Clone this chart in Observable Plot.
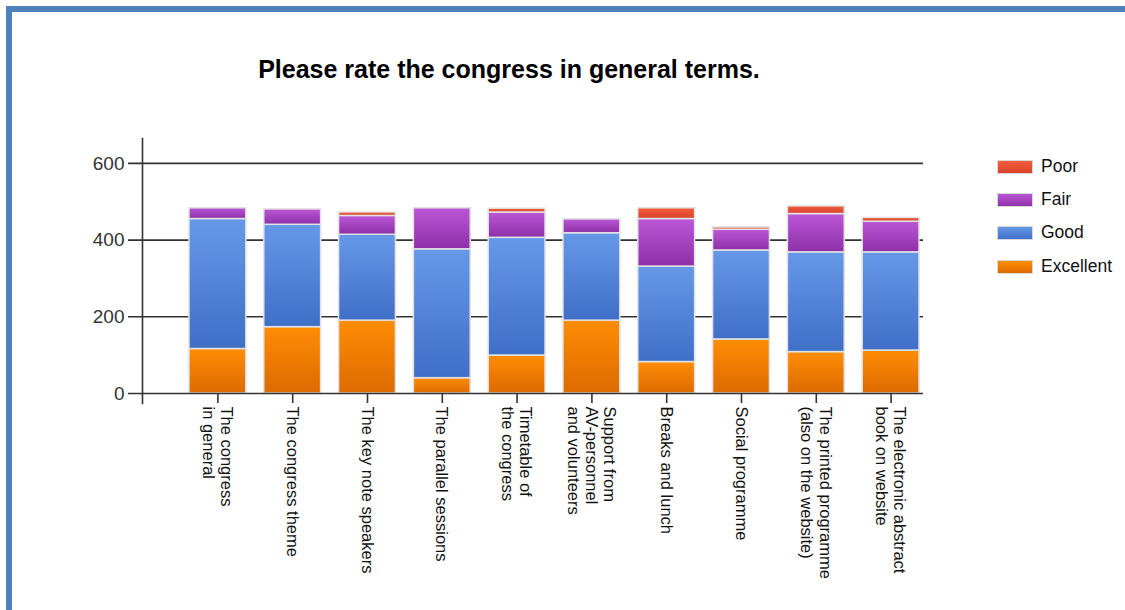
<!DOCTYPE html>
<html>
<head>
<meta charset="utf-8">
<script src="https://cdn.jsdelivr.net/npm/d3@7"></script>
<script src="https://cdn.jsdelivr.net/npm/@observablehq/plot@0.6"></script>
<style>
  html, body { margin: 0; padding: 0; background: #fff; width: 1125px; height: 610px; overflow: hidden; }
  body { position: relative; font-family: "Liberation Sans", Arial, sans-serif; }
  #frame { position: absolute; left: 6px; top: 6px; width: 1200px; height: 700px; border: 6px solid #4f81bd; box-sizing: border-box; }
  #title { position: absolute; left: 0; width: 1018px; top: 55px; text-align: center; font-size: 25px; font-weight: bold; color: #000; }
  #chart { position: absolute; left: 0; top: 100px; }
  #legend { position: absolute; left: 997px; top: 150px; }
  .item { display: flex; align-items: center; height: 33.3px; margin: 0; }
  .sw { width: 34px; height: 12px; border: 1px solid #d8d8d8; margin-right: 8px; }
  .lab { font-size: 17.5px; color: #111; line-height: 18px; position: relative; top: -1px; }
</style>
</head>
<body>
<div id="frame"></div>
<div id="title">Please rate the congress in general terms.</div>
<div id="chart"></div>
<div id="legend"></div>
<script>
const categories = [
  "The congress\nin general",
  "The congress theme",
  "The key note speakers",
  "The parallel sessions",
  "Timetable of\nthe congress",
  "Support from\nAV-personnel\nand volunteers",
  "Breaks and lunch",
  "Social programme",
  "The printed programme\n(also on the website)",
  "The electronic abstract\nbook on website"
];
const series = ["Excellent", "Good", "Fair", "Poor"];
const excellent = [116, 173, 190, 40, 99, 190, 82, 141, 108, 112];
const good      = [339, 267, 224, 336, 307, 228, 249, 232, 260, 256];
const fair      = [28, 40, 49, 107, 66, 36, 124, 54, 100, 80];
const poor      = [0, 0, 9, 0, 10, 0, 28, 6, 20, 10];
const yTicks = [0, 200, 400, 600];
const legendOrder = ["Poor", "Fair", "Good", "Excellent"];

const gradients = {
  Excellent: ["#ff8d05", "#dc6a00"],
  Good: ["#6698e8", "#3f6fc7"],
  Fair: ["#bb57d6", "#8e2fa8"],
  Poor: ["#f35c3c", "#d8422b"]
};
const gid = s => "grad-" + s;

const valuesBySeries = {Excellent: excellent, Good: good, Fair: fair, Poor: poor};
const data = [];
categories.forEach((c, i) => {
  for (const s of series) {
    const v = valuesBySeries[s][i];
    if (v > 0) data.push({category: c, series: s, value: v});
  }
});

const chart = Plot.plot({
  width: 1125,
  height: 510,
  marginLeft: 142,
  marginRight: 202,
  marginTop: 38,
  marginBottom: 217,
  style: {fontFamily: "'Liberation Sans', Arial, sans-serif", fontSize: "16px", background: "transparent", color: "#111"},
  x: {domain: categories, range: [180, 928], paddingInner: 0.24, paddingOuter: 0.12, round: false, label: null},
  y: {domain: [0, 665], label: null},
  color: {domain: series, range: series.map(s => `url(#${gid(s)})`)},
  marks: [
    Plot.ruleY(yTicks.slice(1), {stroke: "#333", strokeWidth: 1.6, insetLeft: -14}),
    Plot.barY(data, {x: "category", y: "value", fill: "series", stroke: "#e2e2e2", strokeWidth: 1.5}),
    Plot.ruleY([0], {stroke: "#333", strokeWidth: 1.6, insetLeft: -14}),
    Plot.frame({anchor: "left", stroke: "#333", strokeWidth: 1.6, insetBottom: -10}),
    Plot.axisY({ticks: yTicks, tickSize: 0, tickPadding: 18, fill: "#333", fontSize: 19, label: null}),
    Plot.axisX({tickSize: 10, tickRotate: 90, tickPadding: 3, lineAnchor: "middle", lineHeight: 1.12, stroke: "#333", strokeWidth: 1.6, fill: "#111", fontSize: 16.5, label: null})
  ]
});

const defs = d3.select(chart).insert("defs", ":first-child");
for (const s of series) {
  const g = defs.append("linearGradient").attr("id", gid(s)).attr("x1", 0).attr("y1", 0).attr("x2", 0).attr("y2", 1);
  g.append("stop").attr("offset", "0%").attr("stop-color", gradients[s][0]);
  g.append("stop").attr("offset", "100%").attr("stop-color", gradients[s][1]);
}
document.getElementById("chart").appendChild(chart);

const legend = document.getElementById("legend");
for (const s of legendOrder) {
  const item = document.createElement("div");
  item.className = "item";
  const sw = document.createElement("div");
  sw.className = "sw";
  sw.style.background = `linear-gradient(${gradients[s][0]}, ${gradients[s][1]})`;
  const lab = document.createElement("span");
  lab.className = "lab";
  lab.textContent = s;
  item.appendChild(sw);
  item.appendChild(lab);
  legend.appendChild(item);
}
</script>
</body>
</html>
